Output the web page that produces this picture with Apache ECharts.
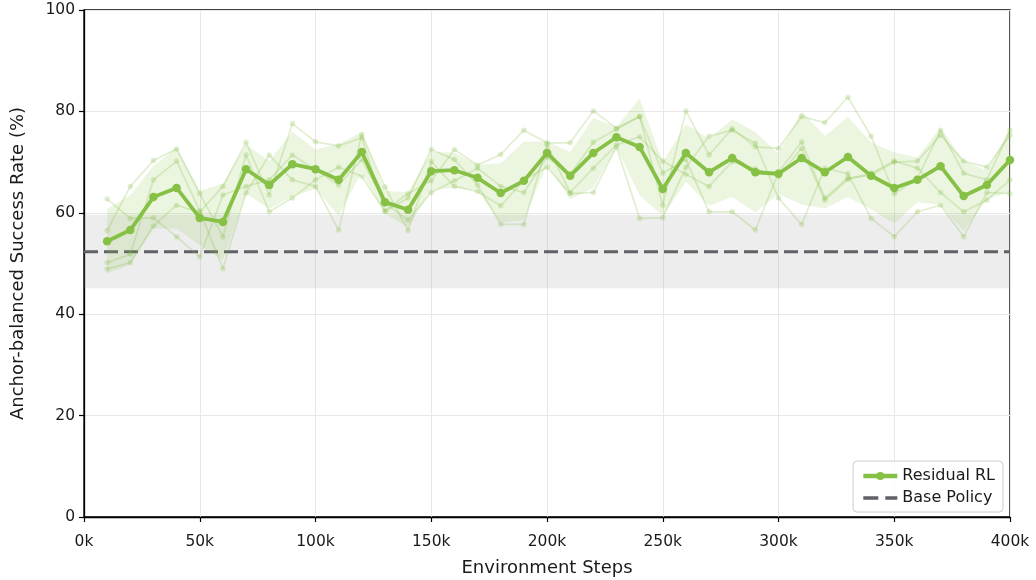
<!DOCTYPE html>
<html>
<head>
<meta charset="utf-8">
<script src="https://cdn.jsdelivr.net/npm/echarts@6/dist/echarts.min.js"></script>
<style>
html,body{margin:0;padding:0;background:#fff;}
#chart{width:1036px;height:580px;}
</style>
</head>
<body>
<div id="chart"></div>
<script>
// Environment steps (thousands)
const stepsK = [10,20,30,40,50,60,70,80,90,100,110,120,130,140,150,160,170,180,190,200,210,220,230,240,250,260,270,280,290,300,310,320,330,340,350,360,370,380,390,400];
// Mean success rate (%)
const meanRate = [54.4,56.6,63.1,64.9,59.0,58.2,68.6,65.5,69.6,68.6,66.5,72.0,62.1,60.6,68.2,68.4,66.9,63.9,66.3,71.8,67.3,71.8,74.9,73.0,64.7,71.8,68.0,70.8,68.0,67.7,70.8,68.0,71.0,67.3,64.9,66.5,69.2,63.3,65.5,70.4];
// Individual seeds (%)
const seedA = [62.7,58.9,59.0,55.3,51.3,63.5,65.2,66.5,71.4,68.5,65.5,70.5,61.9,58.6,64.0,66.3,68.8,65.2,64.0,71.0,67.6,73.9,76.5,79.0,61.5,80.1,71.4,76.6,73.0,72.7,79.0,77.8,82.8,75.1,63.7,66.8,76.3,67.8,66.5,76.3];
const seedB = [56.5,65.2,70.3,72.6,63.8,55.3,71.4,60.2,62.9,66.5,69.0,67.2,60.2,62.9,72.5,70.5,65.5,57.7,57.7,73.4,64.0,68.8,73.4,75.0,70.2,67.6,65.2,70.1,68.7,67.2,72.7,62.5,66.6,67.8,70.2,68.8,64.0,60.2,62.5,66.5];
const seedC = [50.2,51.8,66.5,70.2,60.4,49.0,63.9,71.4,66.5,65.2,56.6,75.5,65.1,56.5,70.1,65.2,64.2,61.4,66.4,69.0,63.8,64.0,73.0,58.9,59.0,69.0,75.1,76.3,73.7,62.9,57.7,68.8,67.7,58.9,55.3,60.2,61.5,55.3,64.0,63.8];
const seedD = [48.9,50.2,57.4,61.5,60.1,65.2,73.9,63.5,77.6,74.0,73.2,74.8,60.4,63.8,66.3,72.5,69.4,71.5,76.3,73.8,73.8,80.1,76.7,79.0,67.8,70.5,60.2,60.2,56.6,68.0,74.0,62.9,66.9,67.4,70.0,70.2,75.3,70.2,69.0,75.3];
// Base policy
const baseMean = 52.3;
const baseLow = 45.1;
const baseHigh = 59.6;
// Axis ticks
const xTicksK = [0,50,100,150,200,250,300,350,400];
const yTicks = [0,20,40,60,80,100];

const GREEN = '#86c146';
const GRAY = '#606066';
const seeds = [seedA, seedB, seedC, seedD];

// band = mean +/- sample std of seeds
const upper = [], lower = [];
for (let i = 0; i < stepsK.length; i++) {
  const vals = seeds.map(s => s[i]);
  const m = vals.reduce((a,b)=>a+b,0)/vals.length;
  const v = vals.reduce((a,b)=>a+(b-m)*(b-m),0)/(vals.length-1);
  const sd = Math.sqrt(v);
  upper.push(meanRate[i] + sd);
  lower.push(meanRate[i] - sd);
}

const xy = arr => stepsK.map((k,i)=>[k*1000, arr[i]]);

const chart = echarts.init(document.getElementById('chart'), null, {renderer:'canvas'});
const FONT = 'DejaVu Sans';
const TXT = '#1a1a1a';
const series = [];

series.push({
  name: 'Base Policy',
  type: 'line',
  data: [[xTicksK[0]*1000, baseMean],[xTicksK[xTicksK.length-1]*1000, baseMean]],
  symbol: 'none',
  z: 3,
  lineStyle: {color: GRAY, width: 3, type: [14,6]},
  itemStyle: {color: GRAY},
  silent: true,
  markArea: {
    silent: true,
    itemStyle: {color:'rgba(150,150,150,0.17)'},
    data: [[{yAxis: baseLow},{yAxis: baseHigh}]]
  }
});

seeds.forEach((s, idx) => {
  series.push({
    name: 'seed' + idx,
    type: 'line',
    data: xy(s),
    symbol: 'circle',
    symbolSize: 5.5,
    showSymbol: true,
    z: 4,
    silent: true,
    lineStyle: {color: GREEN, width: 1.7, opacity: 0.25},
    itemStyle: {color: GREEN, opacity: 0.25},
    emphasis: {disabled: true}
  });
});

series.push({
  name: 'band',
  type: 'custom',
  z: 5,
  silent: true,
  data: [[stepsK[0]*1000, meanRate[0]]],
  renderItem: function(params, api) {
    const pts = [];
    for (let i = 0; i < stepsK.length; i++) pts.push(api.coord([stepsK[i]*1000, upper[i]]));
    for (let i = stepsK.length-1; i >= 0; i--) pts.push(api.coord([stepsK[i]*1000, lower[i]]));
    return {type:'polygon', shape:{points:pts}, style:{fill:'rgba(134,193,70,0.17)', stroke:'none'}};
  }
});

series.push({
  name: 'Residual RL',
  type: 'line',
  data: xy(meanRate),
  symbol: 'circle',
  symbolSize: 8.5,
  z: 6,
  lineStyle: {color: GREEN, width: 3.8},
  itemStyle: {color: GREEN},
  emphasis: {disabled: true}
});

chart.setOption({
  animation: false,
  backgroundColor: '#fff',
  textStyle: {fontFamily: FONT},
  grid: {left: 84, right: 26, top: 10, bottom: 63, show: true, borderColor: '#000', borderWidth: 1.3, backgroundColor: 'transparent', containLabel: false, outerBoundsMode: 'none'},
  legend: {
    data: [
      {name: 'Residual RL', lineStyle: {width: 4.5}},
      {name: 'Base Policy', lineStyle: {width: 3.5, type: [15,7]}, itemStyle: {opacity: 0}}
    ],
    orient: 'vertical',
    right: 33,
    bottom: 68,
    itemWidth: 34,
    itemHeight: 10,
    itemGap: 6,
    padding: [7, 8, 6, 8],
    backgroundColor: 'rgba(255,255,255,0.85)',
    borderColor: '#cccccc',
    borderWidth: 1,
    borderRadius: 4,
    textStyle: {fontFamily: FONT, fontSize: 16, color: TXT}
  },
  xAxis: {
    type: 'value',
    min: xTicksK[0]*1000,
    max: xTicksK[xTicksK.length-1]*1000,
    interval: 50000,
    name: 'Environment Steps',
    nameLocation: 'middle',
    nameGap: 42,
    nameTextStyle: {fontFamily: FONT, fontSize: 18, color: TXT},
    axisLine: {show: true, onZero: false, lineStyle: {color:'#000', width: 1.3}},
    axisTick: {show: true, length: 5, lineStyle: {color:'#000', width: 1.2}},
    axisLabel: {margin: 17, fontFamily: FONT, fontSize: 15.5, color: TXT, formatter: v => (v/1000) + 'k'},
    splitLine: {show: true, lineStyle: {color:'#e8e8e8', width: 1}}
  },
  yAxis: {
    type: 'value',
    min: yTicks[0],
    max: yTicks[yTicks.length-1],
    interval: 20,
    name: 'Anchor-balanced Success Rate (%)',
    nameLocation: 'middle',
    nameGap: 57,
    nameTextStyle: {fontFamily: FONT, fontSize: 18, color: TXT},
    axisLine: {show: true, lineStyle: {color:'#000', width: 1.3}},
    axisTick: {show: true, length: 5, lineStyle: {color:'#000', width: 1.2}},
    axisLabel: {margin: 9, fontFamily: FONT, fontSize: 15.5, color: TXT},
    splitLine: {show: true, lineStyle: {color:'#e8e8e8', width: 1}}
  },
  series: series
});
</script>
</body>
</html>
